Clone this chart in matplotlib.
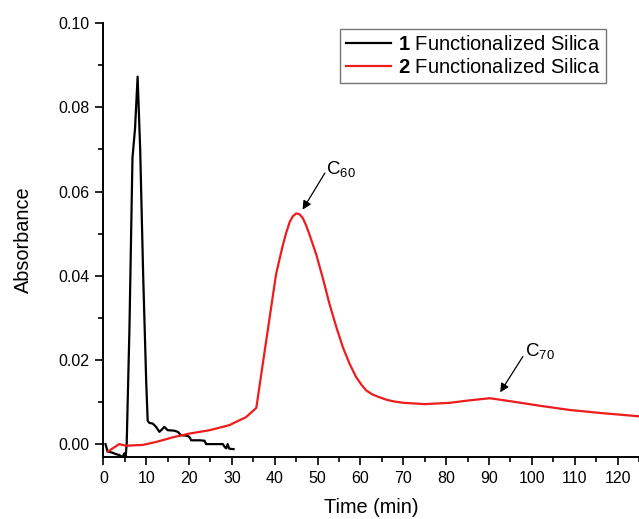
import matplotlib

matplotlib.use("Agg")
import matplotlib.pyplot as plt
from matplotlib.ticker import MultipleLocator

plt.rcParams["font.family"] = ["Liberation Sans", "DejaVu Sans"]
plt.rcParams["mathtext.fontset"] = "custom"
plt.rcParams["mathtext.rm"] = "Liberation Sans"
plt.rcParams["mathtext.bf"] = "Liberation Sans:bold"

# sample 1: black trace (time in min, absorbance)
t1 = [0.5, 1.0, 2.0, 3.0, 3.7, 4.5, 4.9, 5.2, 5.45, 6.1, 6.8, 7.4, 8.0, 8.6, 9.3,
      10.0, 10.35, 10.8, 11.5, 12.3, 13.1, 13.6, 14.25, 15.0, 16.5, 17.4, 18.1,
      19.5, 20.1, 20.5, 22.5, 23.6, 24.0, 26.0, 27.9, 28.4, 28.7, 29.0, 29.4, 30.4]
a1 = [0.0, -0.0018, -0.0020, -0.0024, -0.0026, -0.0031, -0.0022, -0.0030, 0.0,
      0.0277, 0.068, 0.075, 0.0873, 0.070, 0.040, 0.015, 0.0055, 0.0050, 0.0049,
      0.0041, 0.0029, 0.0034, 0.0041, 0.0033, 0.0032, 0.0029, 0.0021, 0.0020,
      0.0017, 0.0009, 0.0009, 0.0008, 0.0, 0.0, 0.0, -0.0008, -0.0010, 0.0,
      -0.0011, -0.0012]

# sample 2: red trace
t2 = [1.0, 2.5, 3.7, 5.3, 7.0, 9.2, 12.3, 16.2, 20.1, 24.8, 29.4, 33.3, 35.7,
      37.2, 38.8, 40.3, 41.2, 41.9, 42.7, 43.5, 44.2, 45.0, 45.8, 46.6, 47.3,
      48.1, 49.7, 51.2, 52.8, 54.4, 55.9, 57.5, 59.0, 60.3, 61.4, 62.8, 64.5,
      66.2, 68.0, 70.1, 75.0, 80.8, 85.5, 90.2, 94.9, 101.9, 108.9, 115.9, 125.0]
a2 = [-0.0018, -0.0008, 0.0, -0.0004, -0.0003, -0.0002, 0.0005, 0.0016, 0.0025,
      0.0033, 0.0045, 0.0064, 0.0086, 0.019, 0.030, 0.0403, 0.0443, 0.0473,
      0.0503, 0.0528, 0.0541, 0.0548, 0.0546, 0.0536, 0.0520, 0.0498, 0.0450,
      0.0395, 0.0332, 0.0277, 0.0230, 0.0190, 0.0159, 0.0140, 0.0127, 0.0118,
      0.0111, 0.0105, 0.0101, 0.0098, 0.0095, 0.0098, 0.0104, 0.0109, 0.0102,
      0.0091, 0.0081, 0.0074, 0.0066]

fig = plt.figure(figsize=(6.39, 5.19), dpi=100)
ax = fig.add_axes([0.1617, 0.12, 0.8383, 0.8353])

ax.plot(t1, a1, color="black", linewidth=1.6,
        label=r"$\mathbf{1}$ Functionalized Silica")
ax.plot(t2, a2, color="#ee1c1c", linewidth=1.6,
        label=r"$\mathbf{2}$ Functionalized Silica")

ax.set_xlim(0, 125)
ax.set_ylim(-0.0030, 0.1)
ax.xaxis.set_major_locator(MultipleLocator(10))
ax.xaxis.set_minor_locator(MultipleLocator(5))
ax.yaxis.set_major_locator(MultipleLocator(0.02))
ax.yaxis.set_minor_locator(MultipleLocator(0.01))
ax.yaxis.set_major_formatter(plt.FuncFormatter(lambda v, p: f"{v:.2f}"))
ax.tick_params(which="major", direction="out", length=6, width=1.2,
               labelsize=11.5, pad=4)
ax.tick_params(which="minor", direction="out", length=3.5, width=1.2)

for side in ("top", "right"):
    ax.spines[side].set_visible(False)
for side in ("left", "bottom"):
    ax.spines[side].set_linewidth(1.4)

ax.set_xlabel("Time (min)", fontsize=14.3, labelpad=9)
ax.set_ylabel("Absorbance", fontsize=14.3, labelpad=18)

# peak labels
arrow = dict(arrowstyle="-|>", color="black", lw=0.9, shrinkA=0, shrinkB=0,
             mutation_scale=13)
ax.annotate("", xy=(46.5, 0.0557), xytext=(51.7, 0.0644), arrowprops=arrow)
ax.text(51.9, 0.0628, r"C$_{60}$", fontsize=13.5, ha="left", va="bottom")
ax.annotate("", xy=(92.6, 0.0123), xytext=(97.9, 0.0208), arrowprops=arrow)
ax.text(98.3, 0.0196, r"C$_{70}$", fontsize=13.5, ha="left", va="bottom")

leg = ax.legend(loc="upper right", bbox_to_anchor=(0.939, 0.987), fontsize=14.5,
                frameon=True, fancybox=False, edgecolor="#555555",
                handlelength=2.25, borderpad=0.3, labelspacing=0.2,
                handletextpad=0.35, borderaxespad=0)
leg.get_frame().set_linewidth(1.0)

fig.savefig("out.png", dpi=100)
